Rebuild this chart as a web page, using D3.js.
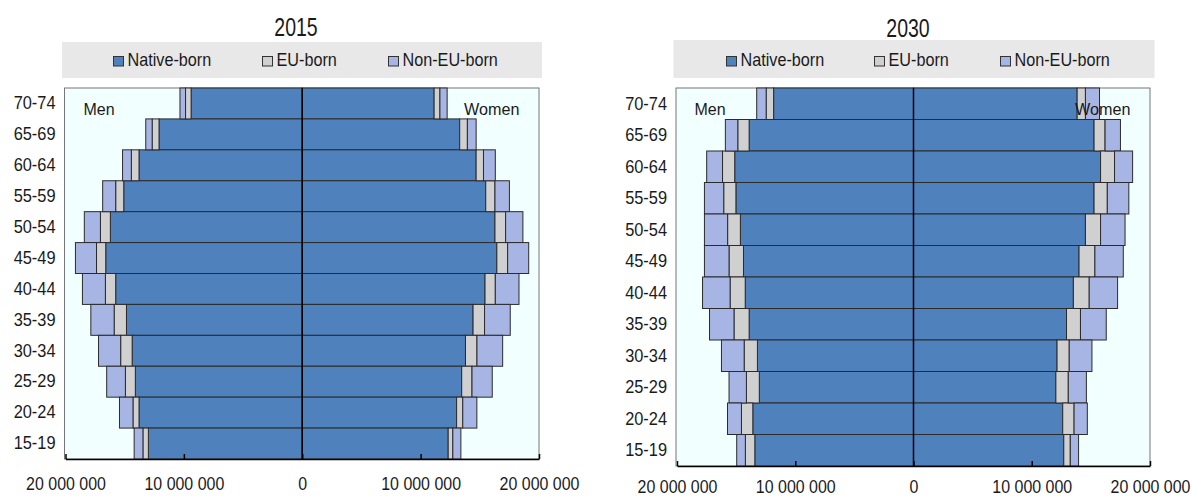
<!DOCTYPE html>
<html>
<head>
<meta charset="utf-8">
<script src="https://cdn.jsdelivr.net/npm/d3@7"></script>
<style>
  html, body { margin: 0; padding: 0; background: #ffffff; }
  svg { display: block; }
  text { font-family: "Liberation Sans", Arial, sans-serif; fill: #1a1a1a; }
</style>
</head>
<body>
<svg id="chart" width="1192" height="498"></svg>
<script>
// ---------- DATA (top to bottom: 70-74 ... 15-19) ----------
const ageGroups = ["70-74","65-69","60-64","55-59","50-54","45-49","40-44","35-39","30-34","25-29","20-24","15-19"];
const seriesNames = ["Native-born","EU-born","Non-EU-born"];
const tickValues = [-20000000, -10000000, 0, 10000000, 20000000];
const panelTitles = ["2015", "2030"];

// 2015
const men2015Native   = [9390000,12100000,13790000,15080000,16210000,16600000,15760000,14850000,14370000,14100000,13790000,13000000];
const men2015EU       = [470000,580000,650000,680000,840000,780000,870000,1040000,970000,840000,510000,460000];
const men2015NonEU    = [470000,540000,740000,1100000,1360000,1780000,1940000,1970000,1870000,1580000,1140000,740000];
const women2015Native = [11140000,13300000,14690000,15500000,16280000,16440000,15440000,14430000,13790000,13470000,13040000,12330000];
const women2015EU     = [490000,650000,620000,780000,900000,910000,870000,970000,970000,870000,520000,390000];
const women2015NonEU  = [610000,740000,1000000,1220000,1460000,1780000,2000000,2170000,2170000,1710000,1190000,680000];

// 2030
const men2030Native   = [11830000,13900000,15120000,15020000,14640000,14380000,14230000,13900000,13200000,13040000,13590000,13420000];
const men2030EU       = [630000,960000,1030000,1030000,1080000,1220000,1280000,1280000,1120000,1090000,960000,800000];
const men2030NonEU    = [800000,1050000,1340000,1630000,1960000,2080000,2330000,2070000,1920000,1470000,1180000,730000];
const women2030Native = [13840000,15270000,15820000,15270000,14540000,14000000,13520000,12940000,12140000,12040000,12620000,12710000];
const women2030EU     = [700000,930000,1180000,1120000,1280000,1340000,1340000,1180000,1030000,1050000,960000,550000];
const women2030NonEU  = [1190000,1300000,1530000,1820000,2070000,2400000,2400000,2180000,1920000,1530000,1120000,700000];

// ---------- STYLE / LAYOUT ----------
const colors = ["#4f81bd", "#d0d0d0", "#a6b5e3"];
const panels = [
  { title: panelTitles[0], x0: 65.5, x1: 539, top: 88, bottom: 459, titleX: 296, titleY: 36,
    legend: { x: 62, y: 42, w: 480, h: 36, items: [113, 262, 388], sqY: 56, textY: 66 },
    labelX: 55.5, menX: 83.5, womenX: 519.5, lblY: 115, tickPad: 17.5,
    men: [men2015Native, men2015EU, men2015NonEU], women: [women2015Native, women2015EU, women2015NonEU] },
  { title: panelTitles[1], x0: 677, x1: 1150, top: 88, bottom: 466, titleX: 908, titleY: 37,
    legend: { x: 673.5, y: 40, w: 481, h: 38, items: [726, 874, 1000], sqY: 56, textY: 66 },
    labelX: 667, menX: 694.5, womenX: 1130.5, lblY: 115, tickPad: 13.5,
    men: [men2030Native, men2030EU, men2030NonEU], women: [women2030Native, women2030EU, women2030NonEU] }
];

const svg = d3.select("#chart");

function label(g, x, y, str, size, sx, anchor) {
  return g.append("text")
    .attr("transform", `translate(${x},${y}) scale(${sx},1)`)
    .attr("text-anchor", anchor || "start")
    .style("font-size", size + "px")
    .text(str);
}

const fmt = v => d3.format(",")(Math.abs(v)).replace(/,/g, " ");

panels.forEach(p => {
  const g = svg.append("g");
  const x = d3.scaleLinear().domain([tickValues[0], tickValues[tickValues.length - 1]]).range([p.x0, p.x1]);
  const y = d3.scaleBand().domain(ageGroups).range([p.top, p.bottom]).padding(0);

  // title
  label(g, p.titleX, p.titleY, p.title, 25, 0.78, "middle");

  // legend
  const lg = g.append("g");
  lg.append("rect").attr("x", p.legend.x).attr("y", p.legend.y)
    .attr("width", p.legend.w).attr("height", p.legend.h).attr("fill", "#e8e8e8");
  seriesNames.forEach((name, i) => {
    const lx = p.legend.items[i];
    lg.append("rect").attr("x", lx + 0.5).attr("y", p.legend.sqY + 0.5)
      .attr("width", 10).attr("height", 9.5)
      .attr("fill", colors[i]).attr("stroke", "#333").attr("stroke-width", 1);
    label(lg, lx + 14.5, p.legend.textY, name, 18, 0.9, "start");
  });

  // plot background
  g.append("rect").attr("x", p.x0 - 1).attr("y", p.top)
    .attr("width", p.x1 - p.x0 + 1).attr("height", p.bottom - p.top)
    .attr("fill", "#f2ffff").attr("stroke", "#777").attr("stroke-width", 1);

  // stacked bars
  const rows = ageGroups.map((a, i) => {
    const r = { age: a };
    seriesNames.forEach((s, k) => { r["m" + k] = p.men[k][i]; r["w" + k] = p.women[k][i]; });
    return r;
  });
  const stackM = d3.stack().keys(seriesNames.map((s, k) => "m" + k))(rows);
  const stackW = d3.stack().keys(seriesNames.map((s, k) => "w" + k))(rows);

  const bars = g.append("g");
  stackM.forEach((layer, k) => {
    bars.selectAll(null).data(layer).join("rect")
      .attr("x", d => x(-d[1]))
      .attr("width", d => x(-d[0]) - x(-d[1]))
      .attr("y", d => y(d.data.age))
      .attr("height", y.bandwidth())
      .attr("fill", colors[k]).attr("stroke", "#2b2b2b").attr("stroke-width", 1);
  });
  stackW.forEach((layer, k) => {
    bars.selectAll(null).data(layer).join("rect")
      .attr("x", d => x(d[0]))
      .attr("width", d => x(d[1]) - x(d[0]))
      .attr("y", d => y(d.data.age))
      .attr("height", y.bandwidth())
      .attr("fill", colors[k]).attr("stroke", "#2b2b2b").attr("stroke-width", 1);
  });

  // zero line
  g.append("line").attr("x1", x(0)).attr("x2", x(0)).attr("y1", p.top).attr("y2", p.bottom)
    .attr("stroke", "#000").attr("stroke-width", 1.5);

  // bottom axis
  const ax = g.append("g").attr("transform", `translate(0,${p.bottom})`)
    .call(d3.axisBottom(x).tickValues(tickValues).tickFormat(fmt)
      .tickSizeInner(-5).tickSizeOuter(0).tickPadding(p.tickPad));
  ax.select(".domain").attr("stroke", "#000").attr("stroke-width", 1.5);
  ax.selectAll(".tick line").attr("stroke", "#000").attr("stroke-width", 1.5);
  ax.selectAll(".tick text")
    .attr("transform", "scale(0.84,1)")
    .style("font-size", "19px").style("font-family", "\"Liberation Sans\", Arial, sans-serif")
    .attr("fill", "#1a1a1a");

  // age labels
  const ay = g.append("g").attr("transform", `translate(${p.labelX},0)`)
    .call(d3.axisLeft(y).tickSize(0).tickPadding(0));
  ay.select(".domain").remove();
  ay.selectAll(".tick text")
    .attr("x", 0).attr("transform", "scale(0.91,1)")
    .attr("text-anchor", "end")
    .style("font-size", "18px").style("font-family", "\"Liberation Sans\", Arial, sans-serif")
    .attr("fill", "#1a1a1a");

  // Men / Women
  label(g, p.menX, p.lblY, "Men", 16.5, 0.97, "start");
  label(g, p.womenX, p.lblY, "Women", 16.5, 0.98, "end");
});
</script>
</body>
</html>
